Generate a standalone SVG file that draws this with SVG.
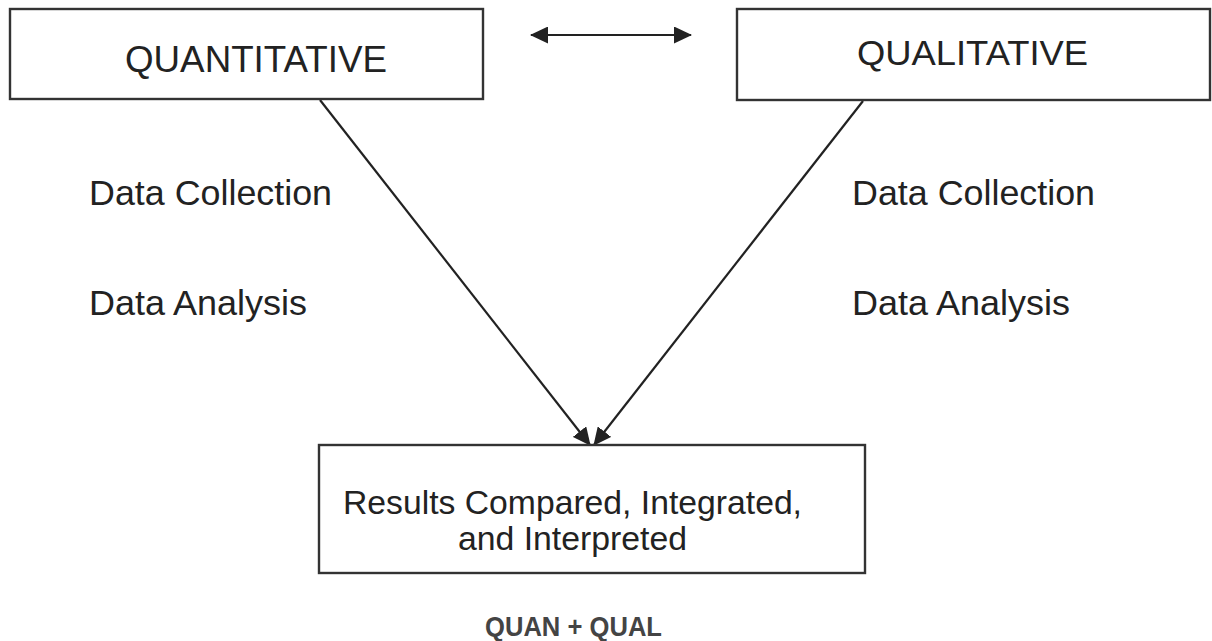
<svg xmlns="http://www.w3.org/2000/svg" width="1212" height="641" viewBox="0 0 1212 641">
  <style>
    .box { fill: #ffffff; stroke: #333333; stroke-width: 2.4; }
    .label { font-family: "Liberation Sans", Arial, sans-serif; fill: #222222; }
    .link { stroke: #222222; stroke-width: 2.2; fill: none; }
    .foot { font-family: "Liberation Sans", Arial, sans-serif; font-weight: bold; fill: #444444; }
  </style>
  <defs>
    <marker id="head" viewBox="0 0 18 17" refX="17" refY="8.5" markerWidth="18" markerHeight="17" markerUnits="userSpaceOnUse" orient="auto-start-reverse">
      <path d="M0,0 L18,8.5 L0,17 Z" fill="#222222"/>
    </marker>
  </defs>
  <rect width="1212" height="641" fill="#ffffff"/>

  <g id="connectors">
    <line class="link" x1="531" y1="35" x2="691" y2="35" marker-start="url(#head)" marker-end="url(#head)"/>
    <line class="link" x1="320" y1="100" x2="590" y2="445" marker-end="url(#head)"/>
    <line class="link" x1="863" y1="101" x2="594" y2="445" marker-end="url(#head)"/>
  </g>

  <g id="quantitative">
    <rect class="box" x="10" y="9" width="473" height="90"/>
    <text class="label" x="125" y="72" font-size="37" textLength="262" lengthAdjust="spacingAndGlyphs">QUANTITATIVE</text>
  </g>

  <g id="qualitative">
    <rect class="box" x="737" y="9" width="473" height="91"/>
    <text class="label" x="857" y="65" font-size="35" textLength="231" lengthAdjust="spacingAndGlyphs">QUALITATIVE</text>
  </g>

  <g id="quan-steps">
    <text class="label" x="89" y="205" font-size="35" textLength="243" lengthAdjust="spacingAndGlyphs">Data Collection</text>
    <text class="label" x="89" y="315" font-size="35" textLength="218" lengthAdjust="spacingAndGlyphs">Data Analysis</text>
  </g>

  <g id="qual-steps">
    <text class="label" x="852" y="205" font-size="35" textLength="243" lengthAdjust="spacingAndGlyphs">Data Collection</text>
    <text class="label" x="852" y="315" font-size="35" textLength="218" lengthAdjust="spacingAndGlyphs">Data Analysis</text>
  </g>

  <g id="results">
    <rect class="box" x="319" y="445" width="546" height="128"/>
    <text class="label" x="343" y="514" font-size="34" textLength="459" lengthAdjust="spacingAndGlyphs">Results Compared, Integrated,</text>
    <text class="label" x="458" y="550" font-size="34" textLength="229" lengthAdjust="spacingAndGlyphs">and Interpreted</text>
  </g>

  <g id="design-label">
    <text class="foot" x="485" y="636" font-size="27" textLength="177" lengthAdjust="spacingAndGlyphs">QUAN + QUAL</text>
  </g>
</svg>
